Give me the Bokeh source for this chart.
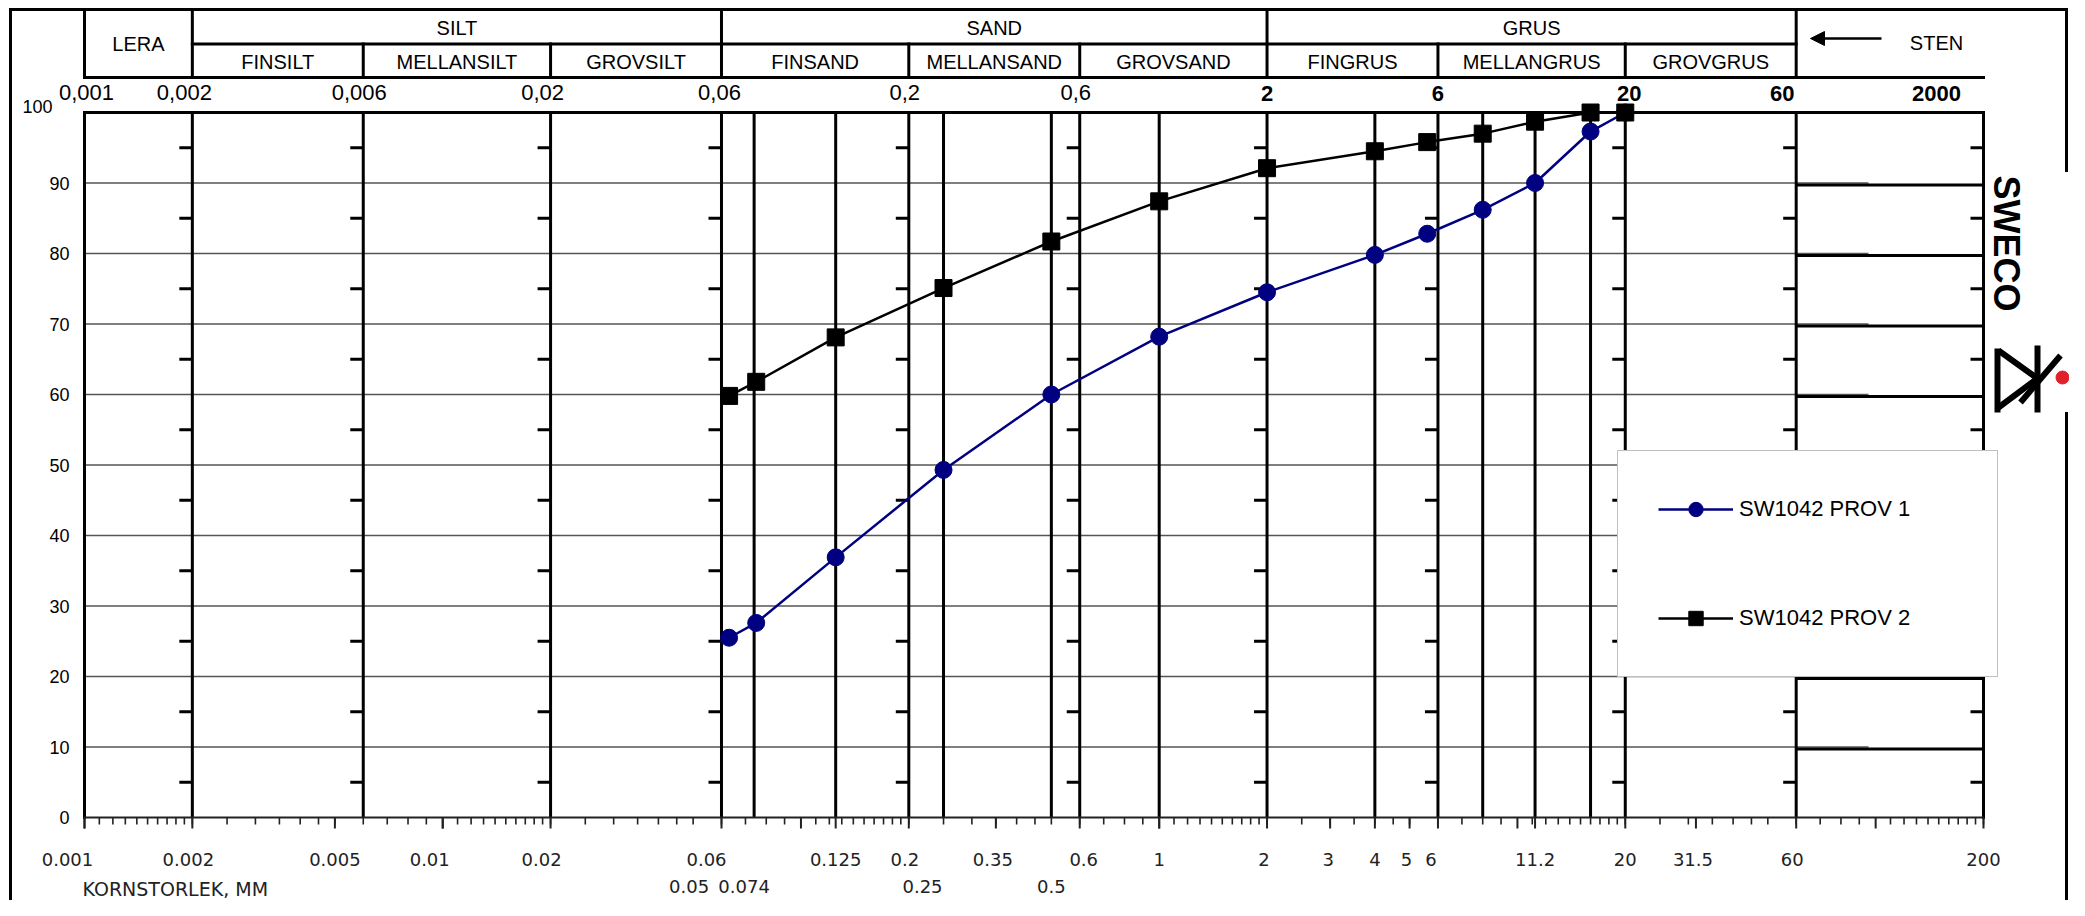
import math
from bokeh.plotting import figure
from bokeh.models import (Range1d, LinearScale, ColumnDataSource, Arrow, NormalHead, Legend, LegendItem)
from bokeh.core.properties import value
from bokeh.embed import file_html
from bokeh.resources import INLINE

# ---------------- data ----------------
sieve_mm = [0.063, 0.075, 0.125, 0.25, 0.5, 1, 2, 4, 5.6, 8, 11.2, 16, 20]
prov1_pct = [25.5, 27.6, 36.9, 49.3, 60.0, 68.2, 74.5, 79.8, 82.8, 86.2, 90.0, 97.3, 100.0]
prov2_pct = [59.8, 61.8, 68.1, 75.1, 81.7, 87.4, 92.1, 94.5, 95.8, 97.0, 98.7, 100.0, 100.0]
series_names = ["SW1042 PROV 1", "SW1042 PROV 2"]
series_colors = ["#000080", "#000000"]

y_ticks = [0, 10, 20, 30, 40, 50, 60, 70, 80, 90, 100]
y_tick_labels = ["0", "10", "20", "30", "40", "50", "60", "70", "80", "90", "100"]
x_ticks_row1 = [0.001, 0.002, 0.005, 0.01, 0.02, 0.06, 0.125, 0.2, 0.35, 0.6, 1, 2, 3, 4, 5, 6,
                11.2, 20, 31.5, 60, 200]
x_labels_row1 = ["0.001", "0.002", "0.005", "0.01", "0.02", "0.06", "0.125", "0.2", "0.35", "0.6",
                 "1", "2", "3", "4", "5", "6", "11.2", "20", "31.5", "60", "200"]
x_ticks_row2 = [0.05, 0.074, 0.25, 0.5]
x_labels_row2 = ["0.05", "0.074", "0.25", "0.5"]
x_limits = [0.001, 200]
grid_mm = [0.002, 0.006, 0.02, 0.06, 0.074, 0.125, 0.2, 0.25, 0.5, 0.6, 1, 2, 4, 6, 8, 11.2, 16, 20, 60]
class_limits = [0.002, 0.006, 0.02, 0.06, 0.2, 0.6, 2, 6, 20, 60, 200]
top_mm = [0.001, 0.002, 0.006, 0.02, 0.06, 0.2, 0.6]
top_txt = ["0,001", "0,002", "0,006", "0,02", "0,06", "0,2", "0,6"]
top_bold_mm = [2, 6, 20, 60]
top_bold_txt = ["2", "6", "20", "60"]
main_names = ["LERA", "SILT", "SAND", "GRUS"]
main_lo = [0.001, 0.002, 0.06, 2]
main_hi = [0.002, 0.06, 2, 60]
sub_names = ["FINSILT", "MELLANSILT", "GROVSILT", "FINSAND", "MELLANSAND", "GROVSAND",
             "FINGRUS", "MELLANGRUS", "GROVGRUS"]
sub_lo = [0.002, 0.006, 0.02, 0.06, 0.2, 0.6, 2, 6, 20]
sub_hi = [0.006, 0.02, 0.06, 0.2, 0.6, 2, 6, 20, 60]
ruler_steps = [1.1, 1.2, 1.3, 1.4, 1.5, 1.6, 1.7, 1.8, 1.9, 2.0, 2.5, 3.0, 3.5, 4.0, 4.5,
               5.0, 6.0, 7.0, 8.0, 9.0]
ruler_mm = [round(k * 10.0 ** n, 6) for n in range(-3, 3) for k in ruler_steps
            if k * 10.0 ** n <= 200]
decade_mm = [0.001, 0.01, 0.1, 1, 10, 100]

# ---------------- layout (page pixels) ----------------
W, H = 2069, 900
FR_L, FR_R, FR_B = 84, 1983, 817          # plot box: 0.001 .. 200 mm, 0 % at FR_B
PX_PCT = 7.05                               # pixels per percent
DEC = (FR_R - FR_L) / math.log10(x_limits[1] / x_limits[0])


def at_px(px):
    return x_limits[0] * 10 ** ((px - FR_L) / DEC)


def shift(x, dpx):
    return x * 10 ** (dpx / DEC)


HT, HM, HB, NUM = 9, 43.5, 77, 92
ROW1, ROW2, LERA_Y = 27, 61, 43
FONT = "Liberation Sans"
BFONT = "DejaVu Sans"

p = figure(width=W, height=H, x_axis_type="log", output_backend="svg", toolbar_location=None,
           x_range=Range1d(at_px(0), at_px(W)),
           y_range=Range1d(-(H - FR_B) / PX_PCT, FR_B / PX_PCT),
           x_axis_location=None, y_axis_location=None,
           min_border=0, min_border_left=0, min_border_right=0, min_border_top=0, min_border_bottom=0)
p.outline_line_color = None
p.background_fill_color = "white"
p.border_fill_color = "white"
p.grid.visible = False
p.extra_x_ranges = {"px": Range1d(0, W)}
p.extra_x_scales = {"px": LinearScale()}
p.extra_y_ranges = {"py": Range1d(H, 0)}
p.extra_y_scales = {"py": LinearScale()}

# ---------------- grid inside the plot ----------------
thin_y = y_ticks[1:-1]
p.segment(x0=[x_limits[0]] * len(thin_y), x1=[at_px(1868)] * len(thin_y), y0=thin_y, y1=thin_y,
          line_color="#555555", line_width=1.4)
p.segment(x0=[60] * len(thin_y), x1=[200] * len(thin_y), y0=[v - 0.3 for v in thin_y],
          y1=[v - 0.3 for v in thin_y], line_color="black", line_width=3)
p.segment(x0=grid_mm, x1=grid_mm, y0=[0] * len(grid_mm), y1=[100] * len(grid_mm),
          line_color="black", line_width=3)
tx0, tx1, ty = [], [], []
for b in class_limits:
    for v in range(5, 100, 10):
        tx0.append(shift(b, -13))
        tx1.append(b)
        ty.append(v)
p.segment(x0=tx0, x1=tx1, y0=ty, y1=ty, line_color="black", line_width=3)
# plot box
p.segment(x0=[x_limits[0], x_limits[0], x_limits[1]], y0=[100, 0, 0],
          x1=[x_limits[1], x_limits[0], x_limits[1]], y1=[100, 100, 100],
          line_color="black", line_width=3, line_cap="square")

# bottom ruler (x axis) and tick labels
p.segment(x0=[x_limits[0]], x1=[x_limits[1]], y0=[0], y1=[0], line_color="#222222", line_width=2)
p.segment(x0=ruler_mm, x1=ruler_mm, y0=[FR_B] * len(ruler_mm), y1=[FR_B + 7] * len(ruler_mm),
          y_range_name="py", line_color="#222222", line_width=1.6)
p.segment(x0=decade_mm + x_ticks_row1, x1=decade_mm + x_ticks_row1,
          y0=[FR_B] * (len(decade_mm) + len(x_ticks_row1)),
          y1=[FR_B + 11] * (len(decade_mm) + len(x_ticks_row1)), y_range_name="py",
          line_color="#222222", line_width=2)
row1_src = ColumnDataSource(dict(
    x=x_ticks_row1, t=x_labels_row1, y=[859] * len(x_ticks_row1),
    xo=[-17, -4, 0, -13, -9, -15, 0, -4, -3, 4, 0, -3, -2, 0, -3, -7, 0, 0, -3, -4, 0]))
p.text(x="x", y="y", text="t", x_offset="xo", source=row1_src, y_range_name="py",
       text_align="center", text_baseline="middle", text_font=value(BFONT),
       text_font_size=value("18px"), text_color="#222222")
row2_src = ColumnDataSource(dict(
    x=x_ticks_row2, t=x_labels_row2, y=[886] * len(x_ticks_row2), xo=[-4, -10, -21, 0]))
p.text(x="x", y="y", text="t", x_offset="xo", source=row2_src, y_range_name="py",
       text_align="center", text_baseline="middle", text_font=value(BFONT),
       text_font_size=value("18px"), text_color="#222222")
p.text(x=[82], y=[888], text=["KORNSTORLEK, MM"], x_range_name="px", y_range_name="py",
       text_align="left", text_baseline="middle", text_font=value(BFONT),
       text_font_size=value("19px"), text_color="#222222")

# y axis labels
ysrc = ColumnDataSource(dict(
    x=[69] * len(y_ticks), y=y_ticks, t=y_tick_labels,
    xo=[0] * (len(y_ticks) - 1) + [-17], yo=[0] * (len(y_ticks) - 1) + [-6]))
p.text(x="x", y="y", text="t", x_offset="xo", y_offset="yo", source=ysrc, x_range_name="px",
       text_align="right", text_baseline="middle", text_font=value(FONT),
       text_font_size=value("18px"), text_color="black")

# ---------------- data series ----------------
l1 = p.line(sieve_mm, prov1_pct, line_color=series_colors[0], line_width=2.5)
s1 = p.scatter(sieve_mm, prov1_pct, marker="circle", size=17, fill_color=series_colors[0],
               line_color=series_colors[0])
l2 = p.line(sieve_mm, prov2_pct, line_color=series_colors[1], line_width=2.5)
s2 = p.scatter(sieve_mm, prov2_pct, marker="square", size=17, fill_color=series_colors[1],
               line_color=series_colors[1])

legend = Legend(items=[LegendItem(label=series_names[0], renderers=[l1, s1]),
                       LegendItem(label=series_names[1], renderers=[l2, s2])],
                location=(1617, H - 677), orientation="vertical",
                padding=40, spacing=73, glyph_width=75, glyph_height=36, label_height=36,
                label_width=218, label_standoff=6, margin=0,
                label_text_font=FONT, label_text_font_size="22px", label_text_color="black",
                border_line_color="#808080", border_line_width=1.5,
                background_fill_color="white", background_fill_alpha=1.0)
p.add_layout(legend)

# ---------------- header ----------------
hx0, hy0, hx1, hy1 = [], [], [], []
for b in [0.001, 0.002, 0.06, 2, 60]:
    hx0.append(b); hx1.append(b); hy0.append(HT); hy1.append(HB)
for b in [0.006, 0.02, 0.2, 0.6, 6, 20]:
    hx0.append(b); hx1.append(b); hy0.append(HM); hy1.append(HB)
hx0 += [0.002, 0.001]; hx1 += [60, 200]; hy0 += [HM, HB]; hy1 += [HM, HB]
p.segment(x0=hx0, y0=hy0, x1=hx1, y1=hy1, y_range_name="py", line_color="black", line_width=3,
          line_cap="square")

# outer frame
p.segment(x0=[10, 10, 2066, 2066], y0=[HT, HT, HT, 413], x1=[2066, 10, 2066, 2066],
          y1=[HT, 899, 170, 899], x_range_name="px", y_range_name="py",
          line_color="black", line_width=3, line_cap="square")

p.text(x=[math.sqrt(a * b) for a, b in zip(main_lo, main_hi)],
       y=[LERA_Y] + [ROW1] * (len(main_names) - 1), text=main_names, y_range_name="py",
       text_align="center", text_baseline="middle", text_font=value(FONT),
       text_font_size=value("20px"), text_color="black")
p.text(x=[math.sqrt(a * b) for a, b in zip(sub_lo, sub_hi)], y=[ROW2] * len(sub_names),
       text=sub_names, y_range_name="py", text_align="center", text_baseline="middle",
       text_font=value(FONT), text_font_size=value("20px"), text_color="black")
p.text(x=top_mm, y=[NUM] * len(top_mm), text=top_txt, y_range_name="py",
       x_offset=[2, -8, -4, -8, -2, -4, -4],
       text_align="center", text_baseline="middle", text_font=value(FONT),
       text_font_size=value("22px"), text_color="black")
p.text(x=top_bold_mm, y=[NUM + 1] * len(top_bold_mm), text=top_bold_txt, y_range_name="py",
       x_offset=[0, 0, 4, -14],
       text_align="center", text_baseline="middle", text_font=value(FONT),
       text_font_size=value("22px"), text_font_style=value("bold"), text_color="black")
p.text(x=[1936], y=[NUM + 1], text=["2000"], x_range_name="px", y_range_name="py",
       text_align="center", text_baseline="middle", text_font=value(FONT),
       text_font_size=value("22px"), text_font_style=value("bold"), text_color="black")

# STEN box
p.add_layout(Arrow(x_start=1881, y_start=38, x_end=1810, y_end=38, x_range_name="px",
                   y_range_name="py", line_color="black", line_width=2.5,
                   end=NormalHead(size=14, fill_color="black", line_color="black")))
p.text(x=[1936], y=[42], text=["STEN"], x_range_name="px", y_range_name="py",
       text_align="center", text_baseline="middle", text_font=value(FONT),
       text_font_size=value("20px"), text_color="black")

# SWECO logo
p.text(x=[2006], y=[243], text=["SWECO"], angle=-math.pi / 2, x_range_name="px",
       y_range_name="py", text_align="center", text_baseline="middle", text_font=value(FONT),
       text_font_size=value("36px"), text_font_style=value("bold"), text_color="black")
p.segment(x0=[1997, 1998, 2037, 2037, 2060], y0=[348, 350, 378, 345, 355],
          x1=[1997, 2037, 1998, 2037, 2020], y1=[412, 378, 407, 412, 402],
          x_range_name="px", y_range_name="py", line_color="black", line_width=6)
p.scatter(x=[2062], y=[377], marker="circle", size=13, fill_color="#e0202a", line_color="#e0202a",
          x_range_name="px", y_range_name="py")

open("out.html", "w").write(file_html(p, INLINE))
